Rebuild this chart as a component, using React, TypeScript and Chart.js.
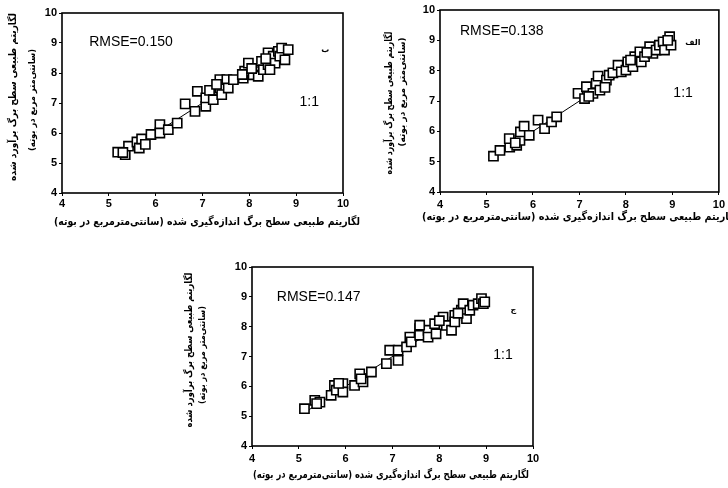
import React, { useEffect, useRef } from "react";
import { Chart, registerables } from "chart.js";
Chart.register(...registerables);

// ---- data ----
const axisMin = 4;
const axisMax = 10;

const yTitleMain = "لگاریتم طبیعی سطح برگ برآورد شده";
const yTitleUnit = "(سانتی‌متر مربع در بوته)\u200F";
const xTitle = "لگاریتم طبیعی سطح برگ اندازه‌گیری شده (سانتی‌مترمربع در بوته)\u200F";

// Panel "ب" (top-left)
const measuredB = [5.19, 5.35, 5.42, 5.6, 5.65, 5.7, 5.9, 6.09, 6.09, 6.27, 6.46, 6.63, 6.84, 6.89, 7.07, 7.07, 7.15, 7.23, 7.37, 7.37, 7.41, 7.52, 7.55, 7.66, 7.87, 7.9, 7.98, 8.08, 8.19, 8.26, 8.3, 8.4, 8.4, 8.51, 8.55, 8.62, 8.65, 8.69, 8.76, 8.83, 8.44, 5.3, 5.78, 7.3, 7.85, 8.05, 8.35];
const estimatedB = [5.36, 5.28, 5.56, 5.7, 5.5, 5.8, 5.95, 6.28, 6.0, 6.11, 6.33, 6.97, 6.72, 7.39, 6.89, 7.17, 7.42, 7.11, 7.78, 7.5, 7.28, 7.78, 7.5, 7.78, 7.83, 8.06, 8.33, 7.94, 7.89, 8.39, 8.11, 8.67, 8.28, 8.56, 8.33, 8.72, 8.56, 8.83, 8.44, 8.78, 8.11, 5.35, 5.62, 7.62, 7.95, 8.15, 8.48];
const lineB = [5.2, 8.8];

// Panel "الف" (top-right)
const measuredA = [5.15, 5.29, 5.5, 5.49, 5.65, 5.72, 5.73, 5.81, 5.92, 6.11, 6.25, 6.4, 6.51, 6.97, 7.11, 7.15, 7.29, 7.36, 7.4, 7.44, 7.58, 7.64, 7.72, 7.83, 7.9, 8.0, 8.04, 8.15, 8.19, 8.3, 8.33, 8.4, 8.51, 8.58, 8.65, 8.72, 8.8, 8.83, 8.94, 8.97, 7.2, 7.55, 8.1, 8.45, 8.9, 5.62];
const estimatedA = [5.18, 5.37, 5.48, 5.76, 5.54, 5.7, 5.98, 6.17, 5.87, 6.37, 6.09, 6.31, 6.48, 7.25, 7.08, 7.47, 7.25, 7.58, 7.82, 7.36, 7.69, 7.85, 7.93, 8.18, 7.96, 8.02, 8.29, 8.13, 8.46, 8.62, 8.29, 8.46, 8.79, 8.57, 8.68, 8.84, 8.95, 8.68, 9.12, 8.84, 7.15, 7.45, 8.35, 8.6, 9.0, 5.62];
const lineA = [5.2, 9.0];

// Panel "ج" (bottom)
const measuredC = [5.12, 5.34, 5.45, 5.38, 5.69, 5.76, 5.8, 5.94, 5.94, 6.19, 6.3, 6.37, 6.33, 6.55, 6.87, 6.94, 7.12, 7.12, 7.3, 7.37, 7.4, 7.58, 7.58, 7.76, 7.76, 7.9, 7.93, 8.08, 8.15, 8.26, 8.33, 8.33, 8.47, 8.51, 8.58, 8.65, 8.72, 8.83, 8.9, 8.94, 8.97, 7.58, 5.85, 8.4, 8.0];
const estimatedC = [5.25, 5.53, 5.47, 5.42, 5.7, 6.03, 5.87, 6.09, 5.81, 6.03, 6.42, 6.15, 6.25, 6.48, 6.76, 7.21, 6.87, 7.21, 7.32, 7.65, 7.49, 7.93, 7.71, 7.88, 7.65, 8.1, 7.76, 8.32, 8.04, 7.88, 8.38, 8.16, 8.55, 8.77, 8.27, 8.55, 8.72, 8.77, 8.94, 8.77, 8.83, 8.05, 6.1, 8.45, 8.2];
const lineC = [5.1, 9.0];

const panelLabels = ["ب", "الف", "ج"];
const rmseLabels = ["RMSE=0.150", "RMSE=0.138", "RMSE=0.147"];
const ratioLabel = "1:1";

// ---- layout (page pixels) ----
type Layout = {
  canvas: { left: number; top: number; width: number; height: number };
  plot: { left: number; top: number; right: number; bottom: number };
  axisBottom: number;
  xTickPad: number;
  xTitle: { cx: number; cy: number; w: number };
  yMain: { cx: number; cy: number; w: number };
  yUnit: { cx: number; cy: number; w: number };
  rmsePos: [number, number];
  ratioPos: [number, number];
  labelPos: [number, number];
};

const layouts: Layout[] = [
  {
    canvas: { left: 0, top: 0, width: 370, height: 240 },
    plot: { left: 62, top: 13, right: 343, bottom: 193 },
    axisBottom: 229,
    xTickPad: 1,
    xTitle: { cx: 207, cy: 222, w: 306 },
    yMain: { cx: 13, cy: 97, w: 168 },
    yUnit: { cx: 33, cy: 100, w: 102 },
    rmsePos: [4.58, 9.03],
    ratioPos: [9.28, 7.03],
    labelPos: [9.62, 8.77],
  },
  {
    canvas: { left: 378, top: 0, width: 350, height: 240 },
    plot: { left: 440, top: 10, right: 719, bottom: 192 },
    axisBottom: 224,
    xTickPad: 3,
    xTitle: { cx: 580, cy: 217, w: 316 },
    yMain: { cx: 389, cy: 103, w: 143 },
    yUnit: { cx: 403, cy: 92, w: 110 },
    rmsePos: [4.43, 9.31],
    ratioPos: [9.23, 7.26],
    labelPos: [9.44, 8.91],
  },
  {
    canvas: { left: 180, top: 250, width: 370, height: 238 },
    plot: { left: 252, top: 267, right: 533, bottom: 446 },
    axisBottom: 482,
    xTickPad: 3,
    xTitle: { cx: 391, cy: 475, w: 276 },
    yMain: { cx: 189, cy: 350, w: 155 },
    yUnit: { cx: 203, cy: 355, w: 98 },
    rmsePos: [4.53, 8.99],
    ratioPos: [9.36, 7.05],
    labelPos: [9.58, 8.56],
  },
];

const panels = [
  { x: measuredB, y: estimatedB, line: lineB },
  { x: measuredA, y: estimatedA, line: lineA },
  { x: measuredC, y: estimatedC, line: lineC },
];

const tickFont = { family: "'Liberation Sans', Arial, sans-serif", size: 11, weight: "bold" as const };
const persianFont = "'DejaVu Sans', sans-serif";

function Panel({ index }: { index: number }) {
  const ref = useRef<HTMLCanvasElement>(null);
  const L = layouts[index];
  const P = panels[index];

  useEffect(() => {
    if (!ref.current) return;
    const cl = L.canvas;
    const plotTop = L.plot.top - cl.top;
    const plotRight = L.plot.right - cl.left;
    const plotLeft = L.plot.left - cl.left;
    const plotBottom = L.plot.bottom - cl.top;
    const axisBottom = L.axisBottom - cl.top;

    const decor = {
      id: "decor",
      afterDatasetsDraw(chart: any) {
        const { ctx, chartArea, scales } = chart;
        ctx.save();
        ctx.strokeStyle = "#000";
        ctx.lineWidth = 1.6;
        ctx.strokeRect(chartArea.left, chartArea.top, chartArea.right - chartArea.left, chartArea.bottom - chartArea.top);
        ctx.fillStyle = "#000";
        ctx.textBaseline = "middle";
        ctx.font = "14px 'Liberation Sans', Arial, sans-serif";
        ctx.textAlign = "left";
        ctx.fillText(rmseLabels[index], scales.x.getPixelForValue(L.rmsePos[0]), scales.y.getPixelForValue(L.rmsePos[1]));
        ctx.textAlign = "center";
        ctx.fillText(ratioLabel, scales.x.getPixelForValue(L.ratioPos[0]), scales.y.getPixelForValue(L.ratioPos[1]));
        ctx.font = `bold 8px ${persianFont}`;
        ctx.fillText(panelLabels[index], scales.x.getPixelForValue(L.labelPos[0]), scales.y.getPixelForValue(L.labelPos[1]));

        // axis titles
        ctx.font = `bold 11px ${persianFont}`;
        ctx.fillText(xTitle, L.xTitle.cx - cl.left, L.xTitle.cy - cl.top, L.xTitle.w);

        ctx.save();
        ctx.translate(L.yMain.cx - cl.left, L.yMain.cy - cl.top);
        ctx.rotate(-Math.PI / 2);
        ctx.font = `bold 10px ${persianFont}`;
        ctx.fillText(yTitleMain, 0, 0, L.yMain.w);
        ctx.restore();

        ctx.save();
        ctx.translate(L.yUnit.cx - cl.left, L.yUnit.cy - cl.top);
        ctx.rotate(-Math.PI / 2);
        ctx.font = `bold 9px ${persianFont}`;
        ctx.fillText(yTitleUnit, 0, 0, L.yUnit.w);
        ctx.restore();

        ctx.restore();
      },
    };

    const chart = new Chart(ref.current, {
      type: "scatter",
      data: {
        datasets: [
          {
            data: P.x.map((v, i) => ({ x: v, y: P.y[i] })),
            pointStyle: "rect",
            pointRadius: 6.5,
            pointBorderWidth: 1.6,
            borderColor: "#000",
            backgroundColor: "#fff",
            pointBackgroundColor: "#fff",
            pointBorderColor: "#000",
          },
          {
            type: "line",
            data: P.line.map((v) => ({ x: v, y: v })),
            borderColor: "#000",
            borderWidth: 1,
            pointRadius: 0,
            fill: false,
          } as any,
        ],
      },
      options: {
        animation: false,
        responsive: false,
        devicePixelRatio: 1,
        layout: {
          padding: { left: 0, top: plotTop, right: cl.width - plotRight, bottom: cl.height - axisBottom },
        },
        plugins: { legend: { display: false }, tooltip: { enabled: false } },
        scales: {
          x: {
            type: "linear",
            min: axisMin,
            max: axisMax,
            border: { display: false },
            grid: { drawOnChartArea: false, drawTicks: true, tickLength: 3, color: "#000" },
            ticks: { stepSize: 1, color: "#000", font: tickFont, padding: L.xTickPad, maxRotation: 0 },
            title: { display: false },
            afterFit(scale: any) {
              scale.height = axisBottom - plotBottom;
            },
          },
          y: {
            type: "linear",
            min: axisMin,
            max: axisMax,
            border: { display: false },
            grid: { drawOnChartArea: false, drawTicks: true, tickLength: 3, color: "#000" },
            ticks: { stepSize: 1, color: "#000", font: tickFont, padding: 2 },
            title: { display: false },
            afterFit(scale: any) {
              scale.width = plotLeft;
            },
          },
        },
      } as any,
      plugins: [decor],
    });
    return () => chart.destroy();
  }, []);

  return (
    <canvas
      ref={ref}
      width={L.canvas.width}
      height={L.canvas.height}
      style={{ position: "absolute", left: L.canvas.left, top: L.canvas.top, width: L.canvas.width, height: L.canvas.height }}
    />
  );
}

export default function App() {
  return (
    <div style={{ position: "absolute", left: 0, top: 0, width: 728, height: 488, background: "#fff", overflow: "hidden" }}>
      <Panel index={0} />
      <Panel index={1} />
      <Panel index={2} />
    </div>
  );
}
